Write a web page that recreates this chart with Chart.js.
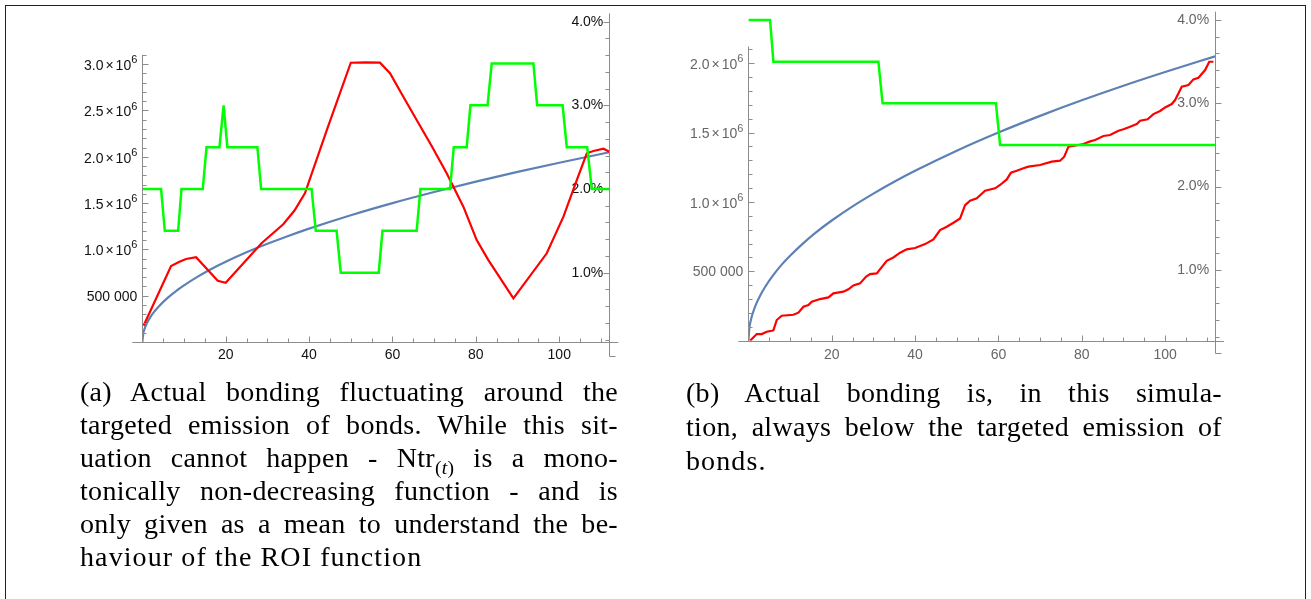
<!DOCTYPE html>
<html>
<head>
<meta charset="utf-8">
<script src="https://cdn.jsdelivr.net/npm/chart.js@4.4.1/dist/chart.umd.min.js"></script>
<style>
  html, body { margin: 0; padding: 0; background: #fff; }
  body { width: 1311px; height: 599px; position: relative; overflow: hidden; }
  .frame { position: absolute; left: 5px; top: 5px; width: 1301px; height: 700px; border: 1px solid #222; box-sizing: border-box; }
  canvas { position: absolute; top: 0; }
  #chartA { left: 0; }
  #chartB { left: 660px; }
  .caption { position: absolute; font-family: "Liberation Serif", serif; font-size: 28px; color: #000; letter-spacing: 0.3px; }
  .caption div { text-align: justify; text-align-last: justify; white-space: nowrap; }
  .caption div.last { text-align-last: left; letter-spacing: 1.1px; }
  .caption sub { font-size: 70%; vertical-align: -7px; line-height: 0; }
  #capA { left: 80px; top: 375px; width: 538px; line-height: 33px; }
  #capB { left: 686px; top: 376px; width: 536px; line-height: 34px; }
</style>
</head>
<body>
<div class="frame"></div>
<canvas id="chartA" width="660" height="380"></canvas>
<canvas id="chartB" width="651" height="380"></canvas>

<div class="caption" id="capA">
  <div>(a) Actual bonding fluctuating around the</div>
  <div>targeted emission of bonds. While this sit-</div>
  <div>uation cannot happen - Ntr<sub>(<i>t</i>)</sub> is a mono-</div>
  <div>tonically non-decreasing function - and is</div>
  <div>only given as a mean to understand the be-</div>
  <div class="last">haviour of the ROI function</div>
</div>
<div class="caption" id="capB">
  <div>(b) Actual bonding is, in this simula-</div>
  <div>tion, always below the targeted emission of</div>
  <div class="last">bonds.</div>
</div>

<script>
// tick labels
const xTickValues = [20, 40, 60, 80, 100];
const pctTickValues = [1, 2, 3, 4];
const bondTicksA = [500000, 1000000, 1500000, 2000000, 2500000, 3000000];
const bondTicksB = [500000, 1000000, 1500000, 2000000];

// targeted emission of bonds (blue), same curve in both panels
const targetX = [0, 0.25, 0.5, 1, 2, 3, 4, 6, 8, 10, 13, 16, 20, 25, 30, 35, 40, 50, 60, 70, 80, 90, 100, 112];
const targetY = [0, 97000, 137000, 194000, 274000, 335000, 387000, 474000, 548000, 612000, 698000, 775000,
  866000, 968000, 1060000, 1145000, 1224000, 1369000, 1500000, 1620000, 1732000, 1837000, 1936000, 2049000];

// (a) actual bonding (red)
const bondXA = [0.3, 6.9, 8.9, 10.5, 12.9, 18.1, 20, 28.6, 33.8, 36.5, 39, 44.5, 50, 53.5, 57, 59.4, 62.6,
  65.8, 69.4, 73, 77, 80.2, 83, 89, 97, 101, 104.2, 106.6, 108.2, 110.6, 112];
const bondYA = [175000, 821000, 867000, 896000, 915000, 662000, 640000, 1066000, 1271000, 1420000, 1606000,
  2320000, 3016000, 3020000, 3016000, 2902000, 2649000, 2397000, 2117000, 1822000, 1461000, 1101000, 885000,
  472000, 958000, 1353000, 1749000, 2038000, 2063000, 2087000, 2055000];

// (a) ROI in percent (green)
const roiXA = [0, 4.5, 5.4, 8.6, 9.4, 14.5, 15.4, 18.5, 19.5, 20.4, 27.6, 28.5, 40.6, 41.6, 46.6, 47.6, 56.7,
  57.6, 65.8, 66.7, 73.8, 74.7, 77.8, 78.7, 82.8, 83.8, 93.8, 94.7, 100.8, 101.8, 106.7, 107.8, 112];
const roiYA = [2.0, 2.0, 1.5, 1.5, 2.0, 2.0, 2.5, 2.5, 3.0, 2.5, 2.5, 2.0, 2.0, 1.5, 1.5, 1.0, 1.0,
  1.5, 1.5, 2.0, 2.0, 2.5, 2.5, 3.0, 3.0, 3.5, 3.5, 3.0, 3.0, 2.5, 2.5, 2.0, 2.0];

// (b) actual bonding (red)
const bondXB = [0.4, 2.0, 3.2, 4.4, 5.6, 6.0, 6.8, 8.0, 10.8, 12.0, 13.2, 14.4, 15.2, 17.2, 19.2, 20.4, 22.8,
  24.0, 25.2, 26.8, 28.2, 29.2, 30.8, 33.2, 34.8, 36.4, 38.0, 40.0, 42.4, 44.4, 46.0, 47.6, 49.2, 50.8, 52.0,
  53.2, 54.8, 56.8, 59.2, 60.4, 62.0, 63.0, 64.4, 66.0, 67.2, 70.0, 72.8, 74.8, 75.8, 76.8, 78.0, 80.4, 82.0,
  83.2, 85.2, 86.8, 88.8, 90.0, 91.6, 93.2, 94.0, 95.8, 97.2, 98.8, 100.0, 101.6, 102.4, 104.0, 105.6, 106.8,
  108.0, 109.6, 110.6, 111.6];
const bondYB = [0, 48000, 48000, 65000, 72000, 75000, 149000, 180000, 187000, 202000, 245000, 257000, 281000,
  300000, 312000, 341000, 353000, 370000, 398000, 413000, 461000, 480000, 485000, 576000, 600000, 634000,
  658000, 668000, 696000, 730000, 797000, 821000, 850000, 881000, 977000, 1009000, 1026000, 1081000, 1098000,
  1122000, 1162000, 1210000, 1225000, 1242000, 1254000, 1266000, 1290000, 1297000, 1326000, 1398000, 1403000,
  1417000, 1436000, 1446000, 1475000, 1482000, 1513000, 1523000, 1542000, 1561000, 1585000, 1595000, 1633000,
  1655000, 1681000, 1705000, 1734000, 1830000, 1842000, 1883000, 1895000, 1950000, 2010000, 2010000];

// (b) ROI in percent (green)
const roiXB = [0, 5.2, 6.0, 31.2, 32.2, 59.4, 60.4, 112];
const roiYB = [4.0, 4.0, 3.5, 3.5, 3.0, 3.0, 2.5, 2.5];

const RED = '#ff0000';
const GREEN = '#00ff00';
const BLUE = '#5e81b5';
const AXIS = '#8c8c8c';
const SANS = '"Liberation Sans", Arial, sans-serif';

const toPoints = (xs, ys) => xs.map((x, i) => ({ x, y: ys[i] }));
const fmtPct = v => v.toFixed(1) + '%';

// Mathematica style axes: lines, major and minor ticks, and the "n.n x 10^6" labels
const mmaAxes = {
  id: 'mmaAxes',
  afterDraw(chart, args, o) {
    const { ctx, chartArea: area, scales } = chart;
    const xs = scales.x, yl = scales.y, yr = scales.y2;
    const crisp = p => Math.round(p) + 0.5;
    const line = (x1, y1, x2, y2) => {
      ctx.beginPath(); ctx.moveTo(x1, y1); ctx.lineTo(x2, y2); ctx.stroke();
    };
    ctx.save();
    ctx.strokeStyle = AXIS;
    ctx.lineWidth = 1;

    const base = crisp(yl.getPixelForValue(0));
    line(area.left - 10, base, area.right + 9, base);
    for (let i = 1; i * o.xMinor < xs.max; i++) {
      const p = crisp(xs.getPixelForValue(i * o.xMinor));
      line(p, base, p, base - (i % 4 === 0 ? 6 : 4));
    }

    const lx = crisp(area.left);
    line(lx, base, lx, yl.getPixelForValue(o.bondTop));
    for (let i = 1; i * o.bondMinor <= o.bondTop; i++) {
      const p = crisp(yl.getPixelForValue(i * o.bondMinor));
      line(lx, p, lx + (i % 5 === 0 ? 6 : 4), p);
    }

    const rx = crisp(area.right);
    line(rx, crisp(yr.getPixelForValue(0)), rx, yr.getPixelForValue(4.1));
    for (let i = 0; i <= 20; i++) {
      const p = crisp(yr.getPixelForValue(i * 0.2));
      const len = i % 5 === 0 ? 6 : 4;
      const dir = i === 0 ? 1 : o.pctDir;
      line(rx, p, rx + dir * len, p);
    }

    // bond labels with a real superscript exponent
    ctx.fillStyle = o.labelColor;
    ctx.textAlign = 'right';
    ctx.textBaseline = 'middle';
    o.bondTicks.forEach(v => {
      const p = yl.getPixelForValue(v);
      let x = area.left - 5;
      ctx.font = '14px ' + SANS;
      if (v === 500000) {
        ctx.fillText('500 000', x, p + 1);
        return;
      }
      ctx.font = '11px ' + SANS;
      ctx.fillText('6', x, p - 4);
      x -= ctx.measureText('6').width;
      ctx.font = '14px ' + SANS;
      ctx.fillText('10', x, p + 2);
      x -= ctx.measureText('10').width + 2;
      ctx.fillText('×', x, p + 2);
      x -= ctx.measureText('×').width + 2;
      ctx.fillText((v / 1e6).toFixed(1), x, p + 2);
    });
    ctx.restore();
  }
};

function makeChart(id, cfg) {
  const font = { family: SANS, size: 14 };
  const noGrid = { display: false, drawTicks: false };
  const datasets = [
    { data: toPoints(cfg.roiX, cfg.roiY), yAxisID: 'y2', borderColor: GREEN, borderWidth: 2.5 },
    { data: toPoints(cfg.bondX, cfg.bondY), yAxisID: 'y', borderColor: RED, borderWidth: 2.2 },
    { data: toPoints(targetX, targetY), yAxisID: 'y', borderColor: BLUE, borderWidth: 2.2, cubicInterpolationMode: 'monotone' }
  ].map(d => Object.assign({ pointRadius: 0, fill: false, tension: 0 }, d));

  return new Chart(document.getElementById(id), {
    type: 'line',
    data: { datasets },
    options: {
      responsive: false,
      animation: false,
      devicePixelRatio: 1,
      events: [],
      layout: { padding: cfg.padding },
      plugins: {
        legend: { display: false },
        tooltip: { enabled: false },
        mmaAxes: Object.assign({ bondTicks: cfg.bondTicks, labelColor: cfg.labelColor }, cfg.axes)
      },
      scales: {
        x: {
          type: 'linear', position: 'bottom', min: 0, max: 112,
          grid: noGrid, border: { display: false },
          afterBuildTicks: s => { s.ticks = xTickValues.map(value => ({ value })); },
          afterFit: s => { s.height = 30; },
          ticks: { font, color: cfg.labelColor, padding: cfg.xPad, maxRotation: 0, autoSkip: false, callback: v => String(v) }
        },
        y: {
          type: 'linear', position: 'left', min: 0, max: cfg.bondMax,
          grid: noGrid, border: { display: false },
          afterFit: s => { s.width = 70; },
          ticks: { display: false }
        },
        y2: {
          type: 'linear', position: 'right', min: cfg.pctMin, max: cfg.pctMax,
          grid: noGrid, border: { display: false },
          afterBuildTicks: s => { s.ticks = pctTickValues.map(value => ({ value })); },
          afterFit: s => { s.width = 40; },
          ticks: { font, color: cfg.labelColor, mirror: true, padding: -6, autoSkip: false, callback: fmtPct }
        }
      }
    },
    plugins: [mmaAxes]
  });
}

makeChart('chartA', {
  bondX: bondXA, bondY: bondYA, roiX: roiXA, roiY: roiYA,
  bondTicks: bondTicksA, bondMax: 3542000, pctMin: 0.171, pctMax: 4.092,
  padding: { left: 72.3, right: 10.7, top: 14, bottom: 8 },
  labelColor: '#111', xPad: 4.5,
  axes: { xMinor: 5, bondMinor: 100000, bondTop: 3100000, pctDir: -1 }
});

makeChart('chartB', {
  bondX: bondXB, bondY: bondYB, roiX: roiXB, roiY: roiYB,
  bondTicks: bondTicksB, bondMax: 2354000, pctMin: 0.151, pctMax: 4.072,
  padding: { left: 18.4, right: 55.9, top: 14, bottom: 9.3 },
  labelColor: '#666', xPad: 5.9,
  axes: { xMinor: 5, bondMinor: 100000, bondTop: 2120000, pctDir: 1 }
});
</script>
</body>
</html>
